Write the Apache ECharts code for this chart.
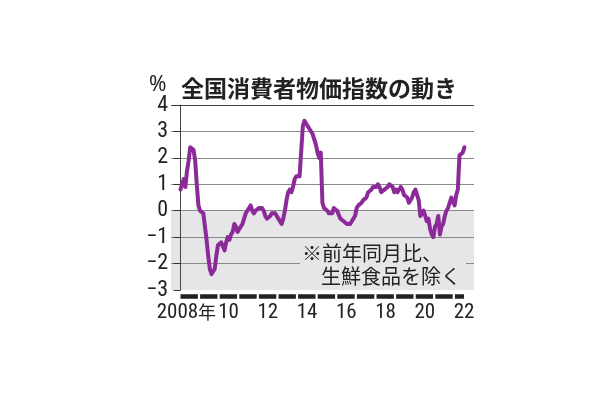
<!DOCTYPE html>
<html>
<head>
<meta charset="utf-8">
<script src="https://cdn.jsdelivr.net/npm/echarts@6/dist/echarts.min.js"></script>
<style>
  html, body { margin: 0; padding: 0; background: #ffffff; }
  #chart { width: 610px; height: 400px; }
</style>
</head>
<body>
<div id="chart"></div>
<script>
// Core CPI (ex fresh food), y/y %, monthly, Jan 2008 - Jul 2022
const cpi2008 = [0.8, 1.0, 1.2, 0.9, 1.5, 1.9, 2.4, 2.4, 2.3, 1.9, 1.0, 0.2];
const cpi2009 = [0.0, 0.0, -0.1, -0.1, -1.1, -1.7, -2.2, -2.4, -2.3, -2.2, -1.7, -1.3];
const cpi2010 = [-1.3, -1.2, -1.2, -1.5, -1.2, -1.0, -1.1, -0.9, -0.8, -0.5, -0.6, -0.8];
const cpi2011 = [-0.7, -0.6, -0.5, -0.3, -0.1, 0.0, 0.1, 0.2, 0.0, -0.1, 0.0, 0.0];
const cpi2012 = [0.1, 0.1, 0.1, 0.0, -0.2, -0.3, -0.3, -0.2, -0.1, -0.1, -0.1, -0.2];
const cpi2013 = [-0.3, -0.4, -0.5, -0.3, 0.0, 0.4, 0.7, 0.8, 0.7, 0.9, 1.2, 1.3];
const cpi2014 = [1.3, 1.3, 1.3, 3.2, 3.4, 3.3, 3.3, 3.1, 3.0, 2.9, 2.7, 2.5];
const cpi2015 = [2.2, 2.0, 2.2, 0.3, 0.1, 0.1, 0.0, -0.1, -0.1, -0.1, 0.1, 0.1];
const cpi2016 = [0.0, 0.0, -0.3, -0.3, -0.4, -0.4, -0.5, -0.5, -0.5, -0.4, -0.4, -0.2];
const cpi2017 = [0.1, 0.2, 0.2, 0.3, 0.4, 0.4, 0.5, 0.7, 0.7, 0.8, 0.9, 0.9];
const cpi2018 = [0.9, 1.0, 0.9, 0.7, 0.7, 0.8, 0.8, 0.9, 1.0, 1.0, 0.9, 0.7];
const cpi2019 = [0.8, 0.7, 0.8, 0.9, 0.8, 0.6, 0.6, 0.5, 0.3, 0.4, 0.5, 0.7];
const cpi2020 = [0.8, 0.6, 0.4, -0.2, -0.2, 0.0, 0.0, -0.4, -0.3, -0.7, -0.9, -1.0];
const cpi2021 = [-0.6, -0.5, -0.2, -0.9, -0.6, -0.5, -0.2, 0.0, 0.1, 0.1, 0.5, 0.5];
const cpi2022 = [0.2, 0.6, 0.8, 2.1, 2.1, 2.2, 2.4];

const yearLabels = ['2008{n|年}', '10', '12', '14', '16', '18', '20', '22'];
const labelYears = [2008, 2010, 2012, 2014, 2016, 2018, 2020, 2022];

const titleText = '全国消費者物価指数の動き';
const unitText = '%';
const noteLine1 = '※前年同月比、';
const noteLine2 = '生鮮食品を除く';

const cpi = [].concat(cpi2008, cpi2009, cpi2010, cpi2011, cpi2012, cpi2013, cpi2014,
  cpi2015, cpi2016, cpi2017, cpi2018, cpi2019, cpi2020, cpi2021, cpi2022);
const lineData = cpi.map((v, i) => [i, v]);

const numFont = "'Roboto Condensed', 'Liberation Sans Narrow', 'Open Sans', 'Noto Sans CJK JP', sans-serif";
const jpFont = "'Noto Sans CJK JP', sans-serif";
const GRAY = '#e6e6e8';

const chart = echarts.init(document.getElementById('chart'), null, { renderer: 'canvas' });

// label anchor inside each year band (first label sits a bit left, as in the print)
const labelPos = labelYears.map((y, i) => y + (i === 0 ? 0.3 : 0.45));

chart.setOption({
  animation: false,
  backgroundColor: '#ffffff',
  grid: [
    { left: 171, right: 136, top: 105, bottom: 110, containLabel: false },
    { left: 180.5, right: 146, top: 105, bottom: 110, containLabel: false }
  ],
  xAxis: [
    {
      gridIndex: 0, type: 'value', min: -5.8, max: 179.9,
      show: false
    },
    {
      gridIndex: 1, type: 'value', min: 2008, max: 2022.45,
      offset: 6,
      axisLine: { show: true, onZero: false, lineStyle: { color: '#222', width: 4.5, type: [17.4, 2.2], cap: 'butt' } },
      axisTick: { show: false },
      splitLine: { show: false },
      axisLabel: {
        customValues: labelPos,
        showMinLabel: true,
        showMaxLabel: true,
        hideOverlap: false,
        margin: 6,
        color: '#222',
        fontSize: 21,
        fontStyle: 'normal',
        fontWeight: 'condensed',
        fontFamily: numFont,
        rich: {
          n: { fontSize: 18, fontFamily: jpFont, color: '#222' }
        },
        formatter: v => {
          const i = labelPos.findIndex(p => Math.abs(p - v) < 0.01);
          return i >= 0 ? yearLabels[i] : '';
        }
      }
    }
  ],
  yAxis: [
    {
      gridIndex: 0, type: 'value', min: -3, max: 4, interval: 1,
      axisLine: { show: true, lineStyle: { color: '#444', width: 1 } },
      axisTick: { show: true, length: 7, lineStyle: { color: '#333', width: 1 } },
      axisLabel: {
        margin: 3,
        color: '#222',
        fontSize: 22,
        fontStyle: 'normal',
        fontWeight: 'condensed',
        fontFamily: numFont,
        formatter: v => String(v).replace('-', '−')
      },
      splitLine: {
        show: true,
        lineStyle: { color: ['rgba(0,0,0,0)', '#8a8a8a', '#8a8a8a', '#8a8a8a', '#8a8a8a', '#8a8a8a', '#8a8a8a', '#444'], width: 1.2 }
      },
      splitArea: {
        show: true,
        areaStyle: { color: [GRAY, GRAY, GRAY, 'rgba(0,0,0,0)', 'rgba(0,0,0,0)', 'rgba(0,0,0,0)', 'rgba(0,0,0,0)'] }
      }
    },
    {
      gridIndex: 1, type: 'value', min: -3, max: 4, show: false
    }
  ],
  series: [
    {
      type: 'line',
      xAxisIndex: 0, yAxisIndex: 0,
      data: lineData,
      showSymbol: false,
      symbol: 'none',
      lineStyle: { color: '#8b2a98', width: 4, join: 'round', cap: 'round' },
      z: 5
    }
  ],
  graphic: [
    {
      type: 'text', left: 181, top: 77,
      style: { text: titleText, font: "bold 23px 'Noto Sans CJK JP', sans-serif", fill: '#222' }
    },
    {
      type: 'text', left: 149, top: 75,
      style: { text: unitText, font: "normal 21px 'Noto Sans', 'Roboto', sans-serif", fill: '#222' }
    },
    {
      type: 'rect', shape: { x: 300, y: 244, width: 166, height: 44 },
      style: { fill: GRAY }, z: 3
    },
    {
      type: 'text', left: 302, top: 243, z: 4,
      style: { text: noteLine1, font: "20px " + jpFont, fill: '#222' }
    },
    {
      type: 'text', left: 321, top: 266, z: 4,
      style: { text: noteLine2, font: "20px " + jpFont, fill: '#222' }
    }
  ]
});
</script>
</body>
</html>
